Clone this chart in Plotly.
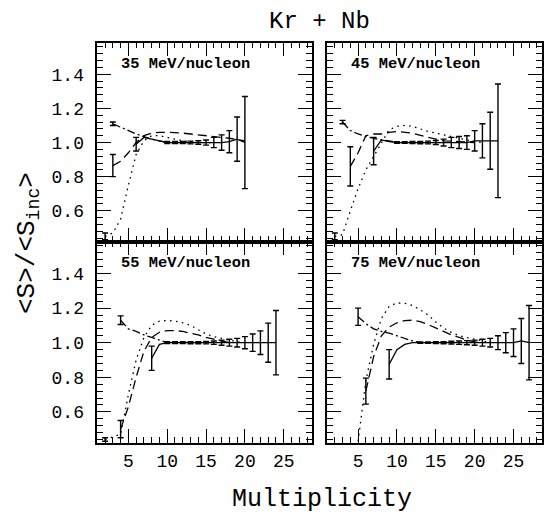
import plotly.graph_objects as go

W, H = 545, 516

# ---------------- data ----------------
panel_labels = ["35 MeV/nucleon", "45 MeV/nucleon", "55 MeV/nucleon", "75 MeV/nucleon"]
x_ticks = [5, 10, 15, 20, 25]
y_ticks = [0.6, 0.8, 1.0, 1.2, 1.4]

# 35 MeV/nucleon
p35_A_m = [3, 4, 5, 6, 7, 8, 9, 10]
p35_A_v = [1.11, 1.09, 1.07, 1.05, 1.035, 1.02, 1.01, 1.0]
p35_A_err = [0.01, 0, 0, 0, 0, 0, 0, 0]
p35_B_m = [3, 4, 5, 6, 7, 8, 9, 10, 12, 14, 16, 18, 20]
p35_B_v = [0.865, 0.89, 0.94, 1.0, 1.04, 1.055, 1.06, 1.06, 1.055, 1.045, 1.035, 1.025, 1.01]
p35_B_err = [0.065, 0, 0, 0, 0, 0, 0, 0, 0, 0, 0, 0, 0]
p35_C_m = [6, 7, 8, 9, 10, 11, 12, 13, 14, 15, 16, 17, 18, 19, 20]
p35_C_v = [0.99, 1.03, 1.02, 1.01, 1.0, 1.0, 1.0, 1.0, 1.0, 1.0, 1.0, 1.0, 1.005, 1.02, 1.0]
p35_C_err = [0.04, 0, 0, 0, 0.006, 0.006, 0.006, 0.008, 0.01, 0.015, 0.03, 0.045, 0.065, 0.13, 0.27]
p35_D_m = [2, 3, 4, 5, 6, 7, 8, 9, 10, 12, 14, 16]
p35_D_v = [0.45, 0.47, 0.55, 0.75, 0.93, 1.01, 1.04, 1.04, 1.03, 1.01, 1.0, 1.0]
p35_D_err = [0.02, 0, 0, 0, 0, 0, 0, 0, 0, 0, 0, 0]

# 45 MeV/nucleon
p45_A_m = [3, 4, 5, 6, 7, 8, 9, 10]
p45_A_v = [1.12, 1.07, 1.05, 1.035, 1.025, 1.015, 1.01, 1.0]
p45_A_err = [0.01, 0, 0, 0, 0, 0, 0, 0]
p45_B_m = [4, 5, 6, 7, 8, 9, 10, 11, 12, 14, 16, 18, 20]
p45_B_v = [0.86, 0.94, 1.04, 1.05, 1.05, 1.06, 1.065, 1.06, 1.055, 1.03, 1.01, 1.005, 1.0]
p45_B_err = [0.115, 0, 0, 0, 0, 0, 0, 0, 0, 0, 0, 0, 0]
p45_C_m = [7, 8, 9, 10, 11, 12, 13, 14, 15, 16, 17, 18, 19, 20, 21, 22, 23]
p45_C_v = [0.95, 1.015, 1.005, 1.0, 1.0, 1.0, 1.0, 1.0, 1.0, 1.0, 1.0, 1.0, 1.0, 1.01, 1.01, 1.01, 1.01]
p45_C_err = [0.08, 0, 0, 0.005, 0.005, 0.006, 0.007, 0.008, 0.012, 0.02, 0.03, 0.035, 0.04, 0.06, 0.1, 0.167, 0.333]
p45_D_m = [2, 3, 4, 5, 6, 7, 8, 9, 10, 11, 12, 13, 14, 15, 16, 17, 18, 19, 20, 21]
p45_D_v = [0.45, 0.46, 0.6, 0.73, 0.84, 0.92, 1.0, 1.075, 1.095, 1.1, 1.095, 1.08, 1.065, 1.055, 1.045, 1.035, 1.025, 1.015, 1.005, 1.0]
p45_D_err = [0.02, 0, 0, 0, 0, 0, 0, 0, 0, 0, 0, 0, 0, 0, 0, 0, 0, 0, 0, 0]

# 55 MeV/nucleon
p55_A_m = [4, 5, 6, 7, 8, 9, 10]
p55_A_v = [1.13, 1.08, 1.065, 1.045, 1.03, 1.015, 1.0]
p55_A_err = [0.025, 0, 0, 0, 0, 0, 0]
p55_B_m = [4, 5, 6, 7, 8, 9, 10, 11, 12, 13, 14, 15, 16, 17, 18]
p55_B_v = [0.5, 0.63, 0.8, 0.95, 1.03, 1.06, 1.07, 1.07, 1.065, 1.055, 1.045, 1.03, 1.02, 1.01, 1.0]
p55_B_err = [0.05, 0, 0, 0, 0, 0, 0, 0, 0, 0, 0, 0, 0, 0, 0]
p55_C_m = [8, 9, 10, 11, 12, 13, 14, 15, 16, 17, 18, 19, 20, 21, 22, 23, 24]
p55_C_v = [0.91, 0.99, 1.0, 1.0, 1.0, 1.0, 1.0, 1.0, 1.0, 1.0, 1.0, 1.0, 1.0, 1.0, 1.0, 1.0, 1.0]
p55_C_err = [0.07, 0, 0.005, 0.005, 0.005, 0.006, 0.006, 0.007, 0.01, 0.015, 0.02, 0.025, 0.035, 0.05, 0.068, 0.113, 0.186]
p55_D_m = [2, 4, 5, 6, 7, 8, 9, 10, 11, 12, 13, 14, 15, 16, 17, 18, 19, 20]
p55_D_v = [0.44, 0.47, 0.7, 0.9, 1.03, 1.1, 1.125, 1.128, 1.125, 1.115, 1.1, 1.075, 1.05, 1.035, 1.025, 1.015, 1.005, 1.0]
p55_D_err = [0.01, 0, 0, 0, 0, 0, 0, 0, 0, 0, 0, 0, 0, 0, 0, 0, 0, 0]

# 75 MeV/nucleon
p75_A_m = [5, 6, 7, 8, 9, 10, 11, 12, 13]
p75_A_v = [1.15, 1.11, 1.08, 1.065, 1.055, 1.04, 1.025, 1.01, 1.0]
p75_A_err = [0.05, 0, 0, 0, 0, 0, 0, 0, 0]
p75_B_m = [6, 7, 8, 9, 10, 11, 12, 13, 14, 15, 16, 17, 18, 19, 20, 21]
p75_B_v = [0.72, 0.92, 1.04, 1.09, 1.115, 1.128, 1.13, 1.122, 1.105, 1.085, 1.065, 1.045, 1.03, 1.015, 1.005, 1.0]
p75_B_err = [0.075, 0, 0, 0, 0, 0, 0, 0, 0, 0, 0, 0, 0, 0, 0, 0]
p75_C_m = [9, 10, 11, 12, 13, 14, 15, 16, 17, 18, 19, 20, 21, 22, 23, 24, 25, 26, 27]
p75_C_v = [0.875, 0.96, 0.99, 1.0, 1.0, 1.0, 1.0, 1.0, 1.0, 1.0, 1.0, 1.0, 1.0, 1.0, 1.0, 1.0, 1.0, 1.01, 1.0]
p75_C_err = [0.085, 0, 0, 0, 0.004, 0.004, 0.005, 0.006, 0.008, 0.01, 0.012, 0.015, 0.02, 0.025, 0.04, 0.058, 0.08, 0.13, 0.215]
p75_D_m = [5, 6, 7, 8, 9, 10, 11, 12, 13, 14, 15, 16, 17, 18, 19, 20, 21, 22]
p75_D_v = [0.43, 0.78, 0.99, 1.14, 1.21, 1.23, 1.228, 1.215, 1.19, 1.16, 1.12, 1.085, 1.06, 1.04, 1.03, 1.02, 1.01, 1.0]
p75_D_err = [0.0, 0, 0, 0, 0, 0, 0, 0, 0, 0, 0, 0, 0, 0, 0, 0, 0, 0]

panels = [
    dict(A=(p35_A_m, p35_A_v, p35_A_err), B=(p35_B_m, p35_B_v, p35_B_err),
         C=(p35_C_m, p35_C_v, p35_C_err), D=(p35_D_m, p35_D_v, p35_D_err)),
    dict(A=(p45_A_m, p45_A_v, p45_A_err), B=(p45_B_m, p45_B_v, p45_B_err),
         C=(p45_C_m, p45_C_v, p45_C_err), D=(p45_D_m, p45_D_v, p45_D_err)),
    dict(A=(p55_A_m, p55_A_v, p55_A_err), B=(p55_B_m, p55_B_v, p55_B_err),
         C=(p55_C_m, p55_C_v, p55_C_err), D=(p55_D_m, p55_D_v, p55_D_err)),
    dict(A=(p75_A_m, p75_A_v, p75_A_err), B=(p75_B_m, p75_B_v, p75_B_err),
         C=(p75_C_m, p75_C_v, p75_C_err), D=(p75_D_m, p75_D_v, p75_D_err)),
]

# ---------------- layout helpers ----------------
FONT = "Liberation Mono"

def px_x(p):
    return p / W

def px_y(p):
    return 1 - p / H

XL = [97.3, 311.7]
XR = [327.0, 541.5]
YT = [42.7, 241.5]
YB = [241.5, 443.0]

axes = ["3", "4", "", "2"]  # 35 top-left, 45 top-right, 55 bottom-left, 75 bottom-right
dash_of = dict(A="8px,3px,2px,3px", B="9px,5px", C="solid", D="1.6px,4.4px")

fig = go.Figure()
for pi, pdata in enumerate(panels):
    ax = axes[pi]
    xr = "x" + ax
    yr = "y" + ax
    for key in ["D", "B", "A", "C"]:
        m, v, e = pdata[key]
        fig.add_trace(go.Scatter(
            x=m, y=v, mode="lines", xaxis=xr, yaxis=yr,
            line=dict(color="black", width=1.3, dash=dash_of[key]),
            showlegend=False, hoverinfo="skip"))
        em = [mm for mm, ee in zip(m, e) if ee > 0]
        ev = [vv for vv, ee in zip(v, e) if ee > 0]
        ee_ = [ee for ee in e if ee > 0]
        if em:
            fig.add_trace(go.Scatter(
                x=em, y=ev, mode="markers", xaxis=xr, yaxis=yr,
                marker=dict(size=1, color="rgba(0,0,0,0)"),
                error_y=dict(type="data", array=ee_, visible=True,
                             color="black", thickness=1.4, width=3),
                showlegend=False, hoverinfo="skip"))

tickfont = dict(family=FONT, size=18, color="black")

def xaxis(domain, anchor, labels):
    return dict(domain=domain, anchor=anchor, range=[1, 28.6],
                showline=True, linecolor="black", linewidth=1.5, mirror="allticks",
                ticks="inside", ticklen=14, tickwidth=1.3, tickcolor="black",
                tickvals=x_ticks, ticktext=[str(t) for t in x_ticks],
                showticklabels=labels, tickfont=tickfont,
                ticklabelstandoff=1,
                minor=dict(dtick=1, tick0=0, ticks="inside", ticklen=6, tickwidth=1.1,
                           tickcolor="black", showgrid=False),
                showgrid=False, zeroline=False)

def yaxis(domain, anchor, labels):
    return dict(domain=domain, anchor=anchor, range=[0.42, 1.585],
                showline=True, linecolor="black", linewidth=1.5, mirror="allticks",
                ticks="inside", ticklen=14, tickwidth=1.3, tickcolor="black",
                tickvals=y_ticks, ticktext=["%.1f" % t for t in y_ticks],
                showticklabels=labels, tickfont=tickfont, ticklabelstandoff=8,
                minor=dict(dtick=0.04, tick0=0, ticks="inside", ticklen=6, tickwidth=1.1,
                           tickcolor="black", showgrid=False),
                showgrid=False, zeroline=False)

dxl = [px_x(XL[0]), px_x(XL[1])]
dxr = [px_x(XR[0]), px_x(XR[1])]
dyt = [px_y(YT[1]), px_y(YT[0])]
dyb = [px_y(YB[1]), px_y(YB[0])]

fig.update_layout(
    width=W, height=H, margin=dict(l=0, r=0, t=0, b=0),
    paper_bgcolor="white", plot_bgcolor="white",
    xaxis=xaxis(dxl, "y", True), yaxis=yaxis(dyb, "x", True),
    xaxis2=xaxis(dxr, "y2", True), yaxis2=yaxis(dyb, "x2", False),
    xaxis3=xaxis(dxl, "y3", False), yaxis3=yaxis(dyt, "x3", True),
    xaxis4=xaxis(dxr, "y4", False), yaxis4=yaxis(dyt, "x4", False),
)

annots = []
label_pos = [(XL[0] + 22, YT[0] + 21), (XR[0] + 22, YT[0] + 21),
             (XL[0] + 22, YB[0] + 21), (XR[0] + 22, YB[0] + 21)]
for txt, (lx, ly) in zip(panel_labels, label_pos):
    annots.append(dict(text=txt, x=px_x(lx), y=px_y(ly), xref="paper", yref="paper",
                       xanchor="left", yanchor="middle", showarrow=False,
                       font=dict(family=FONT, size=15.4, color="black", weight="bold")))
annots.append(dict(text="Kr + Nb", x=px_x(319), y=px_y(21.5), xref="paper", yref="paper",
                   xanchor="center", yanchor="middle", showarrow=False,
                   font=dict(family=FONT, size=24, color="black")))
annots.append(dict(text="Multiplicity", x=px_x(322), y=px_y(499), xref="paper", yref="paper",
                   xanchor="center", yanchor="middle", showarrow=False,
                   font=dict(family=FONT, size=25, color="black")))
annots.append(dict(text="&lt;S&gt;/&lt;S<sub>inc</sub>&gt;", x=px_x(28), y=px_y(243),
                   xref="paper", yref="paper", textangle=-90,
                   xanchor="center", yanchor="middle", showarrow=False,
                   font=dict(family=FONT, size=26, color="black")))
fig.update_layout(annotations=annots)

fig.write_html("out.html")
